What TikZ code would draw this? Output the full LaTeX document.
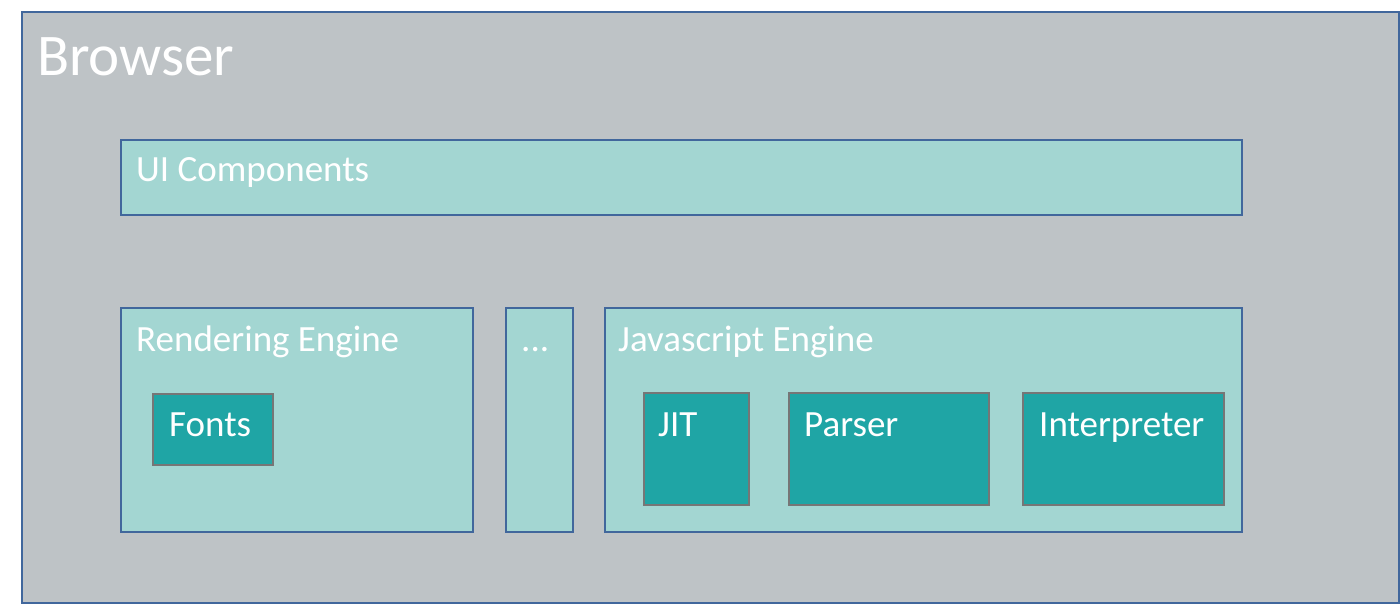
\documentclass[tikz,border=0pt]{standalone}
\usepackage{fontspec}
\setmainfont{Carlito}
\definecolor{outerfill}{HTML}{BEC3C6}
\definecolor{blueline}{HTML}{41679C}
\definecolor{lightteal}{HTML}{A3D6D2}
\definecolor{darkteal}{HTML}{1FA5A5}
\definecolor{grayline}{HTML}{767676}
\tikzset{
  outerbox/.style={draw=blueline, fill=outerfill, line width=2pt, inner sep=0pt, anchor=north west},
  lightbox/.style={draw=blueline, fill=lightteal, line width=2pt, inner sep=0pt, anchor=north west},
  darkbox/.style={draw=grayline, fill=darkteal, line width=2pt, inner sep=0pt, anchor=north west},
  lbl/.style={text=white, anchor=base west, inner sep=0pt, font=\fontsize{37}{40}\selectfont},
  biglbl/.style={text=white, anchor=base west, inner sep=0pt, font=\fontsize{59}{64}\selectfont},
}
\begin{document}
\begin{tikzpicture}[x=1pt, y=-1pt]
\useasboundingbox (0,0) rectangle (1400,603);
\fill[white] (0,0) rectangle (1400,603);
\node[outerbox, minimum width=1377pt, minimum height=591pt] (browser) at (21,11) {};
\node[biglbl] (browsert) at (37,75) {Browser};
\node[lightbox, minimum width=1121pt, minimum height=75pt] (ui) at (120,139) {};
\node[lbl] (uit) at (136,181) {UI Components};
\node[lightbox, minimum width=352pt, minimum height=224pt] (render) at (120,307) {};
\node[lbl] (rendert) at (136,351) {Rendering Engine};
\node[darkbox, minimum width=120pt, minimum height=71pt] (fonts) at (152,393) {};
\node[lbl] (fontst) at (169,436) {Fonts};
\node[lightbox, minimum width=67pt, minimum height=224pt] (dots) at (505,307) {};
\node[lbl] (dotst) at (521,351) {...};
\node[lightbox, minimum width=637pt, minimum height=224pt] (js) at (604,307) {};
\node[lbl] (jst) at (618,351) {Javascript Engine};
\node[darkbox, minimum width=105pt, minimum height=112pt] (jit) at (643,392) {};
\node[lbl] (jitt) at (658,436) {JIT};
\node[darkbox, minimum width=200pt, minimum height=112pt] (parser) at (788,392) {};
\node[lbl] (parsert) at (804,436) {Parser};
\node[darkbox, minimum width=201pt, minimum height=112pt] (interp) at (1022,392) {};
\node[lbl] (interpt) at (1039,436) {Interpreter};
\end{tikzpicture}
\end{document}
